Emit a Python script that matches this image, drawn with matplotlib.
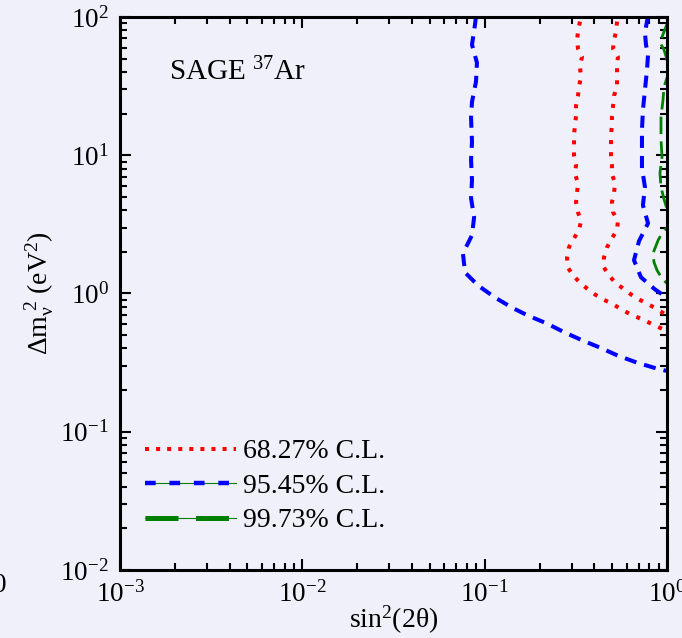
import matplotlib
matplotlib.use("Agg")
import matplotlib.pyplot as plt
from matplotlib.lines import Line2D
from matplotlib.legend_handler import HandlerTuple

plt.rcParams["font.family"] = ["Liberation Serif", "DejaVu Serif"]
plt.rcParams["mathtext.fontset"] = "stix"
plt.rcParams["mathtext.default"] = "regular"
plt.rcParams["axes.unicode_minus"] = False

bg = "#f0f0fa"

# 68.27% C.L. contours (two branches)
red1_x = [0.333, 0.325, 0.321, 0.325, 0.342, 0.333, 0.3375, 0.329, 0.325, 0.317,
          0.317, 0.313, 0.309, 0.309, 0.309, 0.317, 0.313, 0.325, 0.321, 0.317,
          0.325, 0.3375, 0.329, 0.309, 0.290, 0.283, 0.286, 0.305, 0.333, 0.364,
          0.403, 0.446, 0.499, 0.552, 0.619, 0.693, 0.777, 0.860, 0.963, 1.02]
red1_y = [92.6, 78.3, 67.4, 59.0, 51.6, 43.7, 36.9, 31.2, 26.9, 22.8,
          19.2, 16.6, 14.0, 11.9, 10.0, 8.49, 7.31, 6.28, 5.32, 4.57,
          3.87, 3.33, 2.87, 2.51, 2.16, 1.82, 1.54, 1.35, 1.20, 1.087,
          0.983, 0.905, 0.846, 0.778, 0.716, 0.670, 0.626, 0.586, 0.548, 0.530]

red2_x = [0.532, 0.525, 0.512, 0.506, 0.538, 0.532, 0.532, 0.532, 0.512, 0.506,
          0.499, 0.499, 0.493, 0.493, 0.493, 0.499, 0.499, 0.519, 0.512, 0.499,
          0.506, 0.538, 0.532, 0.499, 0.469, 0.451, 0.451, 0.481, 0.519, 0.574,
          0.635, 0.702, 0.777, 0.870, 0.963, 1.03]
red2_y = [92.6, 78.3, 67.4, 59.0, 51.6, 43.7, 36.9, 31.2, 26.9, 22.8,
          19.2, 16.6, 14.0, 11.9, 10.0, 8.49, 7.31, 6.28, 5.32, 4.57,
          3.87, 3.33, 2.87, 2.51, 2.16, 1.82, 1.54, 1.35, 1.20, 1.087,
          0.983, 0.905, 0.846, 0.778, 0.716, 0.670]

# 95.45% C.L. contours
blue1_x = [0.0896, 0.0885, 0.0852, 0.0907, 0.0896, 0.0852, 0.0842, 0.0852, 0.0842,
           0.0852, 0.0842, 0.0875, 0.0852, 0.0760, 0.0780, 0.0919, 0.1139, 0.141,
           0.1728, 0.2197, 0.2758, 0.346, 0.429, 0.538, 0.685, 0.882, 1.04]
blue1_y = [101, 88.1, 63.0, 46.7, 34.0, 24.3, 18.6, 12.5, 9.23,
           6.61, 4.89, 3.56, 2.64, 1.95, 1.42, 1.143, 0.935, 0.791,
           0.692, 0.606, 0.521, 0.456, 0.406, 0.355, 0.316, 0.286, 0.2716]

blue2_x = [0.787, 0.757, 0.767, 0.787, 0.777, 0.757, 0.738, 0.729, 0.729,
           0.729, 0.757, 0.738, 0.787, 0.702, 0.659, 0.720, 0.860, 1.013]
blue2_y = [102, 77.1, 63.0, 53.3, 41.5, 29.7, 21.3, 15.2, 10.9,
           8.07, 5.88, 4.35, 3.22, 2.39, 1.74, 1.31, 1.069, 0.920]

# 99.73% C.L. contour
green_x = [1.013, 0.963, 0.915, 0.963, 1.0, 1.013, 0.963, 0.951, 0.927, 0.927,
           0.939, 0.915, 0.927, 0.963, 1.0, 1.025, 0.939, 0.893, 0.838, 0.849,
           0.882, 0.939, 1.025]
green_y = [92.6, 78.3, 65.2, 58.0, 49.1, 38.2, 31.2, 25.2, 18.9, 12.9,
           9.70, 7.43, 5.88, 4.81, 4.07, 3.11, 2.73, 2.42, 1.95, 1.68,
           1.47, 1.285, 1.143]

labels = ["68.27% C.L.", "95.45% C.L.", "99.73% C.L."]

fig = plt.figure(figsize=(6.82, 6.38), dpi=100, facecolor=bg)
ax = fig.add_axes([0.176, 0.1066, 0.802, 0.8668])
ax.set_facecolor(bg)

ax.plot(red1_x, red1_y, color="red", lw=2.9, dashes=(1, 2.0))
ax.plot(red2_x, red2_y, color="red", lw=2.9, dashes=(1, 2.0))
ax.plot(blue1_x, blue1_y, color="blue", lw=2.9, dashes=(3, 2.0))
ax.plot(blue2_x, blue2_y, color="blue", lw=2.9, dashes=(3, 2.0))
ax.plot(green_x, green_y, color="green", lw=2.0, dashes=(6.3, 2.6))

ax.set_xscale("log")
ax.set_yscale("log")
ax.set_xlim(1e-3, 1)
ax.set_ylim(1e-2, 1e2)

ax.set_xlabel(r"sin$^2$(2$\theta$)", fontsize=20, labelpad=-3)
ax.set_ylabel(r"$\Delta$m$_{\nu}^{\ 2}$ (eV$^2$)", fontsize=20, labelpad=3)

ax.tick_params(which="both", direction="in", top=True, right=True, width=1.5,
               labelsize=19.5, pad=8)
ax.tick_params(which="major", length=8)
ax.tick_params(which="minor", length=5)
for s in ax.spines.values():
    s.set_linewidth(2.2)

ax.text(0.09, 0.9, r"SAGE $^{37}$Ar", transform=ax.transAxes, fontsize=21,
        va="center", ha="left")

h_red = Line2D([], [], color="red", lw=2.9, dashes=(1, 1.75))
h_blue = (Line2D([], [], color="green", lw=0.8),
          Line2D([], [], color="blue", lw=3.2, dashes=(2.4, 3.1)))
h_green = (Line2D([], [], color="green", lw=0.8),
           Line2D([], [], color="green", lw=3.6, dashes=(6.6, 3.5)))
ax.legend([h_red, h_blue, h_green], labels, loc="lower left",
          bbox_to_anchor=(0.045, 0.066), frameon=False, fontsize=20,
          handlelength=3.3, handletextpad=0.25, labelspacing=0.33,
          borderpad=0, borderaxespad=0,
          handler_map={tuple: HandlerTuple(ndivide=1, pad=0)})

# fragment of a neighbouring panel's tick label at the left edge
fig.text(7 / 682, 1 - 585 / 638, "0", ha="right", va="center", fontsize=19.5)

fig.savefig("out.png", dpi=100, facecolor=bg)
